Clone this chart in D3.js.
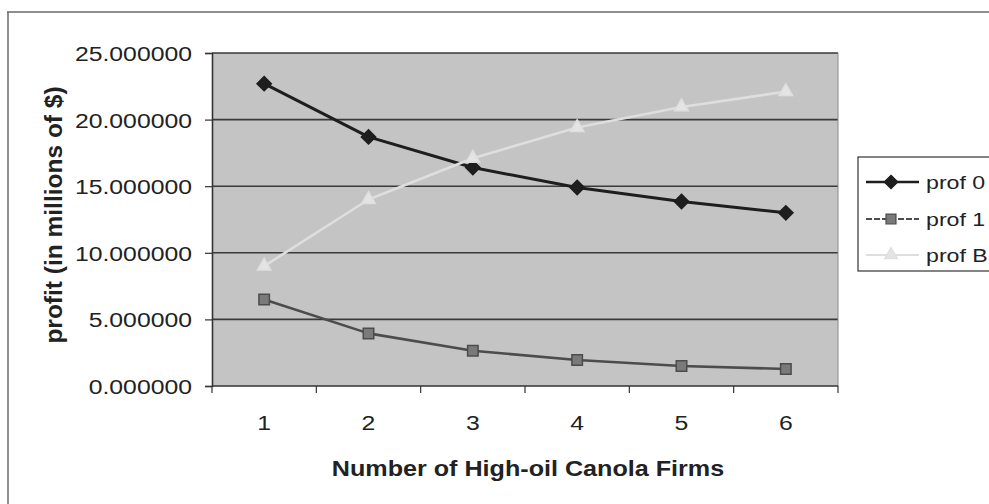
<!DOCTYPE html>
<html>
<head>
<meta charset="utf-8">
<script src="https://cdn.jsdelivr.net/npm/d3@7"></script>
<style>
  html, body { margin: 0; padding: 0; background: #fff; }
  svg { display: block; }
  text { font-family: Arial, "Liberation Sans", Helvetica, sans-serif; fill: #222; }
</style>
</head>
<body>
<svg id="chart" width="989" height="504"></svg>
<script>
// Number of high-oil canola firms
const firms = [1, 2, 3, 4, 5, 6];
// Profits in millions of dollars
const prof0 = [22.7, 18.7, 16.4, 14.9, 13.85, 13.0];
const prof1 = [6.5, 3.95, 2.65, 1.95, 1.5, 1.28];
const profB = [9.0, 14.0, 17.1, 19.4, 20.95, 22.1];
const seriesNames = ["prof 0", "prof 1", "prof B"];
const yTicks = [0, 5, 10, 15, 20, 25];

const svg = d3.select("#chart");
const plot = { left: 212, right: 838, top: 53, bottom: 386 };
const stretch = 1.18;

const x = d3.scaleBand().domain(firms).range([plot.left, plot.right]).padding(0);
const y = d3.scaleLinear().domain([0, 25]).range([plot.bottom, plot.top]);

// Outer chart frame (top and left edges)
svg.append("line").attr("x1", 7).attr("x2", 989).attr("y1", 12).attr("y2", 12)
  .attr("stroke", "#6a6a6a").attr("stroke-width", 1.5);
svg.append("line").attr("x1", 8).attr("x2", 8).attr("y1", 12).attr("y2", 504)
  .attr("stroke", "#6a6a6a").attr("stroke-width", 1.5);

// Plot background
svg.append("rect")
  .attr("x", plot.left).attr("y", plot.top)
  .attr("width", plot.right - plot.left).attr("height", plot.bottom - plot.top)
  .attr("fill", "#c4c4c4");

// Horizontal gridlines
svg.append("g").selectAll("line").data(yTicks.filter(d => d > 0)).join("line")
  .attr("x1", plot.left).attr("x2", plot.right)
  .attr("y1", d => y(d)).attr("y2", d => y(d))
  .attr("stroke", "#3a3a3a").attr("stroke-width", 1.6);

// Right border of plot area
svg.append("line").attr("x1", plot.right).attr("x2", plot.right)
  .attr("y1", plot.top).attr("y2", plot.bottom)
  .attr("stroke", "#8a8a8a").attr("stroke-width", 1);

// Y axis
const yAxis = svg.append("g").attr("transform", `translate(${plot.left},0)`)
  .call(d3.axisLeft(y).tickValues(yTicks).tickSize(7).tickPadding(0).tickFormat(d => d3.format(".6f")(d)));
yAxis.select(".domain").attr("stroke", "#333").attr("stroke-width", 1.6);
yAxis.selectAll(".tick line").attr("stroke", "#333").attr("stroke-width", 1.2);
yAxis.selectAll(".tick text").each(function () {
  const t = d3.select(this);
  t.attr("x", null).attr("dy", "0.36em").attr("font-size", 21).attr("text-anchor", "end")
    .attr("transform", `translate(-20,0) scale(${stretch},1)`).style("fill", "#222");
});

// X axis with ticks between categories
const xAxis = svg.append("g").attr("transform", `translate(0,${plot.bottom})`);
xAxis.append("line").attr("x1", plot.left).attr("x2", plot.right)
  .attr("stroke", "#333").attr("stroke-width", 1.6);
const bounds = firms.map(d => x(d)).concat([plot.right]);
xAxis.selectAll("line.tk").data(bounds).join("line").attr("class", "tk")
  .attr("x1", d => d).attr("x2", d => d).attr("y1", 0).attr("y2", 7)
  .attr("stroke", "#333").attr("stroke-width", 1.2);
xAxis.selectAll("text").data(firms).join("text")
  .attr("transform", d => `translate(${x(d) + x.bandwidth() / 2},36) scale(${stretch},1)`)
  .attr("dy", "0.36em").attr("text-anchor", "middle").attr("font-size", 21)
  .text(d => d);

// Axis titles
svg.append("text")
  .attr("transform", `translate(${(plot.left + plot.right) / 2 + 3},468) scale(1.17,1)`)
  .attr("dy", "0.36em").attr("text-anchor", "middle")
  .attr("font-size", 21.5).attr("font-weight", "bold")
  .text("Number of High-oil Canola Firms");
svg.append("text")
  .attr("transform", "translate(53,215) rotate(-90)")
  .attr("dy", "0.36em").attr("text-anchor", "middle")
  .attr("font-size", 24.5).attr("font-weight", "bold")
  .text("profit (in millions of $)");

const cx = d => x(d) + x.bandwidth() / 2;
const series = [
  { name: seriesNames[0], values: prof0, stroke: "#1e1e1e", fill: "#1e1e1e", width: 3, shape: d3.symbolDiamond2, size: 130 },
  { name: seriesNames[1], values: prof1, stroke: "#4c4c4c", fill: "#7a7a7a", width: 2.6, shape: d3.symbolSquare, size: 110 },
  { name: seriesNames[2], values: profB, stroke: "#dedede", fill: "#e4e4e4", width: 2.6, shape: d3.symbolTriangle, size: 80 }
];

const line = d3.line().x(d => cx(d[0])).y(d => y(d[1]));

series.forEach(s => {
  const pts = firms.map((f, i) => [f, s.values[i]]);
  svg.append("path").datum(pts).attr("d", line)
    .attr("fill", "none").attr("stroke", s.stroke).attr("stroke-width", s.width)
    .attr("stroke-linejoin", "round");
  svg.append("g").selectAll("path").data(pts).join("path")
    .attr("transform", d => `translate(${cx(d[0])},${y(d[1])})`)
    .attr("d", d3.symbol().type(s.shape).size(s.size))
    .attr("fill", s.fill).attr("stroke", s.stroke).attr("stroke-width", 1.5);
});

// Legend
const legend = svg.append("g");
legend.append("rect").attr("x", 858).attr("y", 157).attr("width", 140).attr("height", 114)
  .attr("fill", "#fff").attr("stroke", "#333").attr("stroke-width", 1.2);
const legendY = [182, 219, 255];
series.forEach((s, i) => {
  const g = legend.append("g").attr("transform", `translate(0,${legendY[i]})`);
  g.append("line").attr("x1", 866).attr("x2", 919).attr("y1", 0).attr("y2", 0)
    .attr("stroke", s.stroke).attr("stroke-width", s.width - 0.5)
    .attr("stroke-dasharray", i === 1 ? "6,2" : null);
  g.append("path").attr("transform", "translate(891,0)")
    .attr("d", d3.symbol().type(s.shape).size(s.size * 0.9))
    .attr("fill", s.fill).attr("stroke", s.stroke).attr("stroke-width", 1.2);
  g.append("text").attr("transform", `translate(926,0) scale(1.22,1)`)
    .attr("dy", "0.36em").attr("font-size", 19).text(s.name);
});
</script>
</body>
</html>
